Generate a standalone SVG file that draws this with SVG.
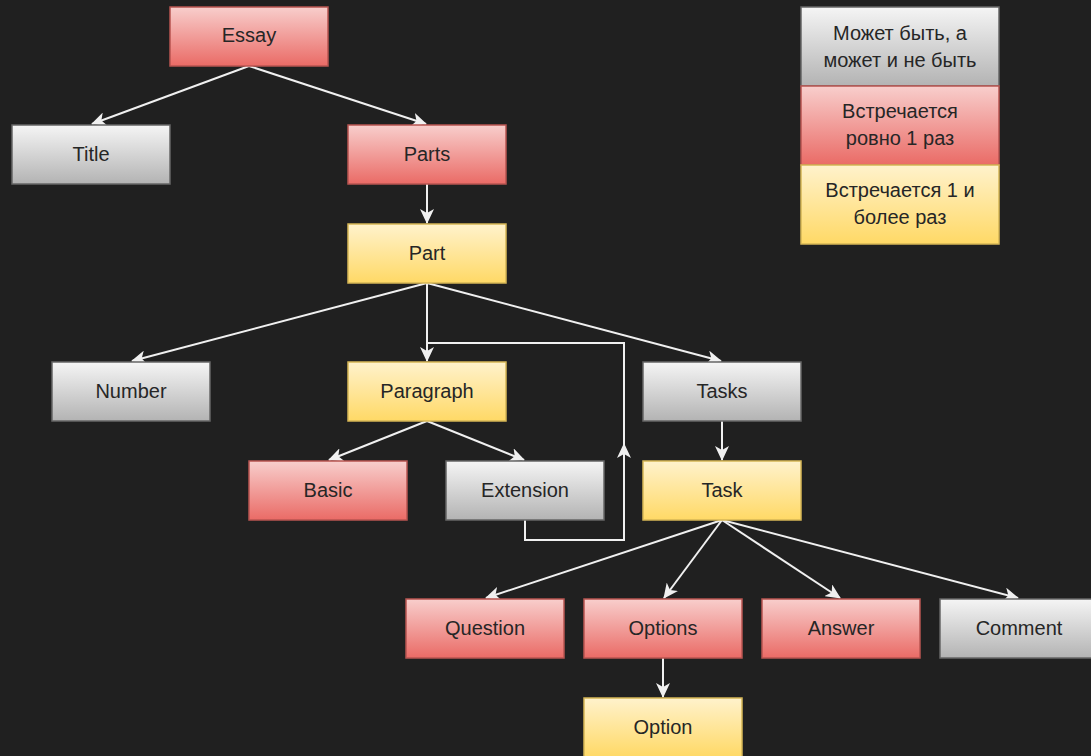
<svg xmlns="http://www.w3.org/2000/svg" width="1091" height="756" viewBox="0 0 1091 756">
<defs>
<linearGradient id="gRed" x1="0" y1="0" x2="0" y2="1"><stop offset="0" stop-color="#f8cecc"/><stop offset="1" stop-color="#ea6b66"/></linearGradient>
<linearGradient id="gGray" x1="0" y1="0" x2="0" y2="1"><stop offset="0" stop-color="#f5f5f5"/><stop offset="1" stop-color="#b3b3b3"/></linearGradient>
<linearGradient id="gYel" x1="0" y1="0" x2="0" y2="1"><stop offset="0" stop-color="#fff2cc"/><stop offset="1" stop-color="#ffd966"/></linearGradient>
<marker id="arr" viewBox="0 0 15 14" refX="14" refY="7" markerWidth="15" markerHeight="14" markerUnits="userSpaceOnUse" orient="auto">
<path d="M0,0 L15,7 L0,14 L4,7 Z" fill="#f0f0f0"/>
</marker>
</defs>
<style>
.red{fill:url(#gRed);stroke:#b85450;stroke-width:1.5}
.gray{fill:url(#gGray);stroke:#666666;stroke-width:1.5}
.yel{fill:url(#gYel);stroke:#d6b656;stroke-width:1.5}
text{font-family:"Liberation Sans",Arial,sans-serif;font-size:20px;fill:#262626;text-anchor:middle;dominant-baseline:central}
.e{fill:none;stroke:#f0f0f0;stroke-width:2}
.m{marker-end:url(#arr)}
</style>
<rect width="1091" height="756" fill="#202020"/>
<g id="connectors">
<path class="e m" d="M249,66 L92,124"/>
<path class="e m" d="M249,66 L426,124"/>
<path class="e m" d="M427,184 L427,223"/>
<path class="e m" d="M427,283 L132,361"/>
<path class="e m" d="M427,283 L427,361"/>
<path class="e m" d="M427,283 L721,361"/>
<path class="e m" d="M427,421 L329,460"/>
<path class="e m" d="M427,421 L524,460"/>
<path class="e m" d="M722,421 L722,460"/>
<path class="e m" d="M525,520 L525,540 L624,540 L624,444"/>
<path class="e" d="M624,446 L624,343 L427,343"/>
<path class="e m" d="M722,520 L486,598"/>
<path class="e m" d="M722,520 L664,598"/>
<path class="e m" d="M722,520 L840,598"/>
<path class="e m" d="M722,520 L1018,598"/>
<path class="e m" d="M663,658 L663,697"/>
</g>
<g id="essay"><rect class="red" x="170" y="7" width="158" height="59"/><text x="249" y="35">Essay</text></g>
<g id="title"><rect class="gray" x="12" y="125" width="158" height="59"/><text x="91" y="153.5">Title</text></g>
<g id="parts"><rect class="red" x="348" y="125" width="158" height="59"/><text x="427" y="153.5">Parts</text></g>
<g id="part"><rect class="yel" x="348" y="224" width="158" height="59"/><text x="427" y="252.5">Part</text></g>
<g id="number"><rect class="gray" x="52" y="362" width="158" height="59"/><text x="131" y="390.5">Number</text></g>
<g id="paragraph"><rect class="yel" x="348" y="362" width="158" height="59"/><text x="427" y="390.5">Paragraph</text></g>
<g id="tasks"><rect class="gray" x="643" y="362" width="158" height="59"/><text x="722" y="390.5">Tasks</text></g>
<g id="basic"><rect class="red" x="249" y="461" width="158" height="59"/><text x="328" y="489.5">Basic</text></g>
<g id="extension"><rect class="gray" x="446" y="461" width="158" height="59"/><text x="525" y="489.5">Extension</text></g>
<g id="task"><rect class="yel" x="643" y="461" width="158" height="59"/><text x="722" y="489.5">Task</text></g>
<g id="question"><rect class="red" x="406" y="599" width="158" height="59"/><text x="485" y="627.5">Question</text></g>
<g id="options"><rect class="red" x="584" y="599" width="158" height="59"/><text x="663" y="627.5">Options</text></g>
<g id="answer"><rect class="red" x="762" y="599" width="158" height="59"/><text x="841" y="627.5">Answer</text></g>
<g id="comment"><rect class="gray" x="940" y="599" width="158" height="59"/><text x="1019" y="627.5">Comment</text></g>
<g id="option"><rect class="yel" x="584" y="698" width="158" height="59"/><text x="663" y="726.5">Option</text></g>
<g id="legend-optional"><rect class="gray" x="801" y="7" width="198" height="79"/><text x="900" y="33">Может быть, а</text><text x="900" y="60">может и не быть</text></g>
<g id="legend-once"><rect class="red" x="801" y="86" width="198" height="79"/><text x="900" y="111">Встречается</text><text x="900" y="138">ровно 1 раз</text></g>
<g id="legend-many"><rect class="yel" x="801" y="165" width="198" height="79"/><text x="900" y="190">Встречается 1 и</text><text x="900" y="217">более раз</text></g>
</svg>
